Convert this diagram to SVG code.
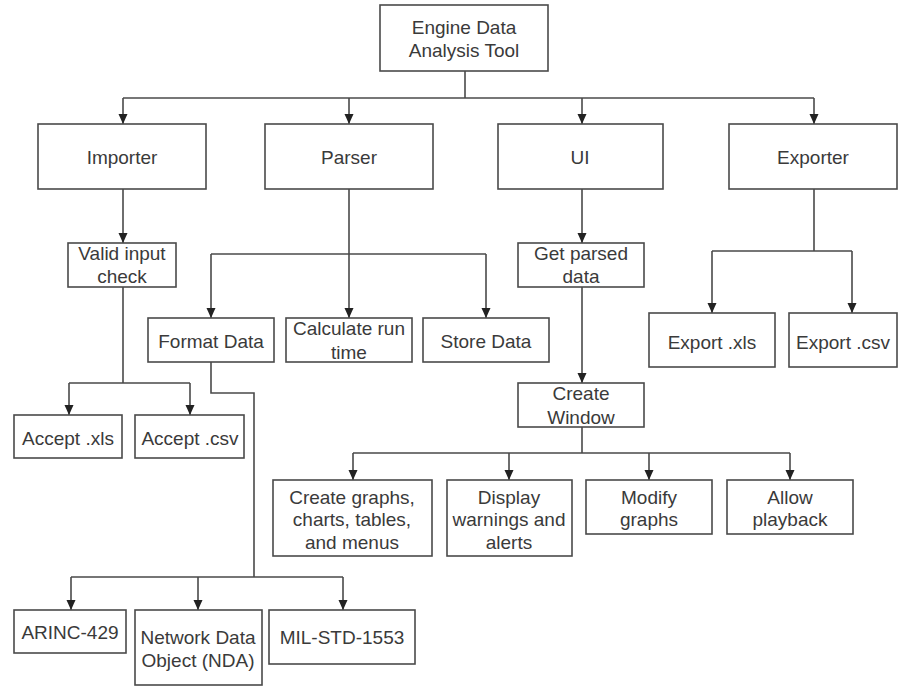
<svg xmlns="http://www.w3.org/2000/svg" width="903" height="686" viewBox="0 0 903 686">
<defs>
<style>
.b{fill:#fff;stroke:#4a4a4a;stroke-width:1.6}
.t{font-family:"Liberation Sans",Arial,sans-serif;font-size:19px;fill:#3a3a3a;text-anchor:middle;dominant-baseline:central}
.c{fill:none;stroke:#4a4a4a;stroke-width:1.6}
</style>
<marker id="ah" markerUnits="userSpaceOnUse" markerWidth="10" markerHeight="10" viewBox="0 0 10 10" refX="10" refY="5" orient="auto">
<path d="M0,0.5 L10,5 L0,9.5 Z" fill="#222"/>
</marker>
</defs>
<rect width="903" height="686" fill="#fff"/>
<g id="connectors">
<path class="c" d="M465,71 V98"/>
<path class="c" d="M123,98 H814"/>
<path class="c" d="M123,98 V124" marker-end="url(#ah)"/>
<path class="c" d="M349,98 V124" marker-end="url(#ah)"/>
<path class="c" d="M582,98 V124" marker-end="url(#ah)"/>
<path class="c" d="M814,98 V124" marker-end="url(#ah)"/>
<path class="c" d="M123,189 V243" marker-end="url(#ah)"/>
<path class="c" d="M123,287 V383 M69,383 H190"/>
<path class="c" d="M69,383 V415" marker-end="url(#ah)"/>
<path class="c" d="M190,383 V415" marker-end="url(#ah)"/>
<path class="c" d="M349,189 V318" marker-end="url(#ah)"/>
<path class="c" d="M211,254 H486"/>
<path class="c" d="M211,254 V318" marker-end="url(#ah)"/>
<path class="c" d="M486,254 V318" marker-end="url(#ah)"/>
<path class="c" d="M211,362 V393 H254 V577 M71,577 H343"/>
<path class="c" d="M71,577 V610" marker-end="url(#ah)"/>
<path class="c" d="M198,577 V610" marker-end="url(#ah)"/>
<path class="c" d="M343,577 V610" marker-end="url(#ah)"/>
<path class="c" d="M582,189 V243" marker-end="url(#ah)"/>
<path class="c" d="M582,287 V383" marker-end="url(#ah)"/>
<path class="c" d="M582,427 V453 M353,453 H790"/>
<path class="c" d="M353,453 V480" marker-end="url(#ah)"/>
<path class="c" d="M509,453 V480" marker-end="url(#ah)"/>
<path class="c" d="M649,453 V480" marker-end="url(#ah)"/>
<path class="c" d="M790,453 V480" marker-end="url(#ah)"/>
<path class="c" d="M814,189 V251 M712,251 H852"/>
<path class="c" d="M712,251 V313" marker-end="url(#ah)"/>
<path class="c" d="M852,251 V313" marker-end="url(#ah)"/>
</g>
<g id="root"><rect class="b" x="380" y="5" width="168" height="66"/><text class="t" x="464" y="27">Engine Data</text><text class="t" x="464" y="50">Analysis Tool</text></g>
<g id="importer"><rect class="b" x="38" y="124" width="168" height="65"/><text class="t" x="122" y="157">Importer</text></g>
<g id="parser"><rect class="b" x="265" y="124" width="168" height="65"/><text class="t" x="349" y="157">Parser</text></g>
<g id="ui"><rect class="b" x="498" y="124" width="165" height="65"/><text class="t" x="580" y="157">UI</text></g>
<g id="exporter"><rect class="b" x="729" y="124" width="168" height="65"/><text class="t" x="813" y="157">Exporter</text></g>
<g id="valid"><rect class="b" x="68" y="243" width="108" height="44"/><text class="t" x="122" y="253">Valid input</text><text class="t" x="122" y="276">check</text></g>
<g id="acceptxls"><rect class="b" x="14" y="415" width="108" height="43"/><text class="t" x="68" y="438">Accept .xls</text></g>
<g id="acceptcsv"><rect class="b" x="135" y="415" width="109" height="43"/><text class="t" x="190" y="438">Accept .csv</text></g>
<g id="format"><rect class="b" x="148" y="318" width="126" height="44"/><text class="t" x="211" y="341">Format Data</text></g>
<g id="calc"><rect class="b" x="286" y="318" width="126" height="44"/><text class="t" x="349" y="328">Calculate run</text><text class="t" x="349" y="352">time</text></g>
<g id="store"><rect class="b" x="423" y="318" width="126" height="44"/><text class="t" x="486" y="341">Store Data</text></g>
<g id="arinc"><rect class="b" x="14" y="610" width="112" height="43"/><text class="t" x="70" y="632">ARINC-429</text></g>
<g id="nda"><rect class="b" x="135" y="610" width="127" height="75"/><text class="t" x="198" y="637">Network Data</text><text class="t" x="198" y="660">Object (NDA)</text></g>
<g id="mil"><rect class="b" x="269" y="610" width="146" height="54"/><text class="t" x="342" y="637">MIL-STD-1553</text></g>
<g id="getparsed"><rect class="b" x="518" y="243" width="126" height="44"/><text class="t" x="581" y="253">Get parsed</text><text class="t" x="581" y="276">data</text></g>
<g id="createwindow"><rect class="b" x="518" y="383" width="126" height="44"/><text class="t" x="581" y="393">Create</text><text class="t" x="581" y="417">Window</text></g>
<g id="exportxls"><rect class="b" x="649" y="313" width="126" height="54"/><text class="t" x="712" y="342">Export .xls</text></g>
<g id="exportcsv"><rect class="b" x="789" y="313" width="108" height="54"/><text class="t" x="843" y="342">Export .csv</text></g>
<g id="creategraphs"><rect class="b" x="273" y="480" width="159" height="76"/><text class="t" x="352" y="497">Create graphs,</text><text class="t" x="352" y="519">charts, tables,</text><text class="t" x="352" y="542">and menus</text></g>
<g id="display"><rect class="b" x="447" y="480" width="125" height="76"/><text class="t" x="509" y="497">Display</text><text class="t" x="509" y="519">warnings and</text><text class="t" x="509" y="542">alerts</text></g>
<g id="modify"><rect class="b" x="586" y="480" width="126" height="54"/><text class="t" x="649" y="497">Modify</text><text class="t" x="649" y="519">graphs</text></g>
<g id="playback"><rect class="b" x="727" y="480" width="126" height="54"/><text class="t" x="790" y="497">Allow</text><text class="t" x="790" y="519">playback</text></g>
</svg>
